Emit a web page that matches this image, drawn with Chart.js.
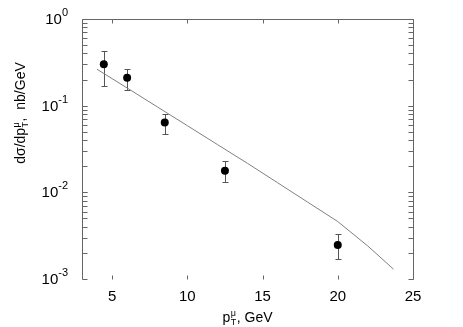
<!DOCTYPE html>
<html>
<head>
<meta charset="utf-8">
<script src="https://cdn.jsdelivr.net/npm/chart.js@4"></script>
<style>
  html, body { margin: 0; padding: 0; background: #fff; }
  canvas { display: block; }
</style>
</head>
<body>
<canvas id="c" width="463" height="327"></canvas>
<script>
// measured points (pT in GeV, dsigma/dpT in nb/GeV)
const ptData = [4.45, 6.0, 8.5, 12.5, 20.0];
const sigData = [0.30, 0.21, 0.064, 0.0178, 0.00247];
const errHi = [0.428, 0.263, 0.080, 0.0228, 0.00329];
const errLo = [0.167, 0.152, 0.0468, 0.0132, 0.00169];

// theory curve
const ptTheory = [4.0, 6, 8, 10, 12, 14, 16, 18, 20, 22, 23.7];
const sigTheory = [0.263, 0.16, 0.097, 0.0588, 0.0356, 0.0216, 0.0129, 0.0077, 0.0046, 0.0024, 0.0013];

const xTicks = [5, 10, 15, 20, 25];
const yDecades = [0, -1, -2, -3];

const FONT = '"Liberation Sans", Arial, sans-serif';
const AXIS_COL = '#666';

// draws text like p_T^mu : base, then sup/sub stacked
function drawScripted(ctx, x, y, parts) {
  let cx = x;
  for (const p of parts) {
    if (p.sup !== undefined) {
      ctx.font = '9px ' + FONT;
      const w = Math.max(ctx.measureText(p.sup).width, ctx.measureText(p.sub).width);
      ctx.fillText(p.sup, cx + 0.5, y - 6);
      ctx.fillText(p.sub, cx + 0.5, y + 3);
      cx += w + 1;
    } else {
      ctx.font = '14px ' + FONT;
      ctx.fillText(p.t, cx, y);
      cx += ctx.measureText(p.t).width;
    }
  }
  return cx - x;
}

function measureScripted(ctx, parts) {
  let w = 0;
  for (const p of parts) {
    if (p.sup !== undefined) {
      ctx.font = '9px ' + FONT;
      w += Math.max(ctx.measureText(p.sup).width, ctx.measureText(p.sub).width) + 1;
    } else {
      ctx.font = '14px ' + FONT;
      w += ctx.measureText(p.t).width;
    }
  }
  return w;
}

const framePlugin = {
  id: 'frame',
  beforeDatasetsDraw(chart) {
    const ctx = chart.ctx;
    const xs = chart.scales.x, ys = chart.scales.y;
    ctx.save();
    ctx.strokeStyle = '#555';
    ctx.lineWidth = 1;
    for (let i = 0; i < ptData.length; i++) {
      const px = Math.round(xs.getPixelForValue(ptData[i])) + 0.5;
      const top = ys.getPixelForValue(errHi[i]);
      const bot = ys.getPixelForValue(errLo[i]);
      ctx.beginPath();
      ctx.moveTo(px, top); ctx.lineTo(px, bot);
      ctx.moveTo(px - 3, Math.round(top) + 0.5); ctx.lineTo(px + 3, Math.round(top) + 0.5);
      ctx.moveTo(px - 3, Math.round(bot) + 0.5); ctx.lineTo(px + 3, Math.round(bot) + 0.5);
      ctx.stroke();
    }
    ctx.restore();
  },
  afterDraw(chart) {
    const ctx = chart.ctx;
    const a = chart.chartArea;
    const xs = chart.scales.x, ys = chart.scales.y;
    const L = Math.round(a.left) + 0.5, R = Math.round(a.right) + 0.5;
    const T = Math.round(a.top) + 0.5, B = Math.round(a.bottom) + 0.5;
    ctx.save();
    ctx.strokeStyle = AXIS_COL;
    ctx.lineWidth = 1;
    ctx.beginPath();
    ctx.moveTo(L, B); ctx.lineTo(L, T); ctx.lineTo(R, T); ctx.lineTo(R, B);
    // x ticks, top and bottom, inward
    for (const v of xTicks) {
      const px = Math.round(xs.getPixelForValue(v)) + 0.5;
      ctx.moveTo(px, T); ctx.lineTo(px, T + 4);
      ctx.moveTo(px, B); ctx.lineTo(px, B - 4);
    }
    // y ticks, left and right, inward
    for (let d = -3; d < 0; d++) {
      for (let m = 1; m <= 10; m++) {
        const v = m * Math.pow(10, d);
        const py = Math.round(ys.getPixelForValue(v)) + 0.5;
        ctx.moveTo(L, py); ctx.lineTo(L + 5, py);
        ctx.moveTo(R, py); ctx.lineTo(R - 5, py);
      }
    }
    ctx.stroke();

    // y tick labels 10^n
    ctx.fillStyle = '#000';
    ctx.textBaseline = 'middle';
    for (const d of yDecades) {
      const py = ys.getPixelForValue(Math.pow(10, d));
      const exp = d === 0 ? '0' : '-' + (-d);
      ctx.font = '11px ' + FONT;
      const we = ctx.measureText(exp).width;
      ctx.font = '15px ' + FONT;
      const wb = ctx.measureText('10').width;
      const right = a.left - 14;
      ctx.fillText('10', right - we - wb, py + 1);
      ctx.font = '11px ' + FONT;
      ctx.fillText(exp, right - we, py - 6);
    }

    // x title
    ctx.textBaseline = 'alphabetic';
    const xt = [{t: 'p'}, {sup: 'μ', sub: 'T'}, {t: ', GeV'}];
    const wx = measureScripted(ctx, xt);
    drawScripted(ctx, (a.left + a.right) / 2 - wx / 2, 322, xt);

    // y title, rotated
    const yt = [{t: 'dσ/dp'}, {sup: 'μ', sub: 'T'}, {t: ',  nb/GeV'}];
    const wy = measureScripted(ctx, yt);
    ctx.translate(25, 113);
    ctx.rotate(-Math.PI / 2);
    drawScripted(ctx, -wy / 2, 0, yt);
    ctx.restore();
  }
};

new Chart(document.getElementById('c'), {
  type: 'scatter',
  data: {
    datasets: [
      {
        type: 'line',
        data: ptTheory.map((x, i) => ({x: x, y: sigTheory[i]})),
        borderColor: '#808080',
        borderWidth: 1,
        pointRadius: 0,
        fill: false,
        tension: 0
      },
      {
        data: ptData.map((x, i) => ({x: x, y: sigData[i]})),
        backgroundColor: '#000',
        borderColor: '#000',
        borderWidth: 0,
        pointRadius: 4,
        pointHoverRadius: 4
      }
    ]
  },
  options: {
    responsive: false,
    animation: false,
    devicePixelRatio: 1,
    layout: { padding: { left: 0, top: 19, right: 50, bottom: 0 } },
    plugins: { legend: { display: false }, tooltip: { enabled: false } },
    scales: {
      x: {
        type: 'linear',
        min: 3,
        max: 25,
        grid: { display: false, drawTicks: false },
        border: { display: false },
        afterBuildTicks: s => { s.ticks = xTicks.map(v => ({value: v})); },
        afterFit: s => { s.height = 48; },
        ticks: { padding: 9, color: '#000', font: { family: FONT, size: 15 } }
      },
      y: {
        type: 'logarithmic',
        min: 0.001,
        max: 1,
        grid: { display: false, drawTicks: false },
        border: { display: false },
        ticks: { display: false },
        afterFit: s => { s.width = 82; }
      }
    }
  },
  plugins: [framePlugin]
});
</script>
</body>
</html>
